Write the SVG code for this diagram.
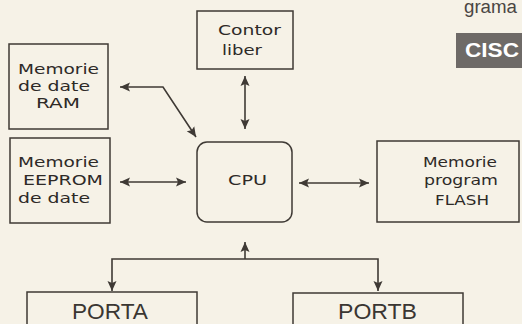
<svg xmlns="http://www.w3.org/2000/svg" width="522" height="324" viewBox="0 0 522 324">
<style>
.box{fill:none;stroke:#3f3a35;stroke-width:1.5}
.t{font-family:"DejaVu Sans",sans-serif;font-size:14.5px;fill:#2e2a27}
.big{font-family:"Liberation Sans",Arial,sans-serif;font-size:22px;fill:#3a3632}
.c{fill:none;stroke:#3f3a35;stroke-width:1.6}
</style>
<defs>
<marker id="ah" viewBox="0 0 10 10" refX="10" refY="5" markerWidth="10" markerHeight="10" markerUnits="userSpaceOnUse" orient="auto-start-reverse">
<path d="M0,0.5 L10,5 L0,9.5 L2,5 Z" fill="#3f3a35"/>
</marker>
</defs>
<rect width="522" height="324" fill="#f6f2e7"/>
<g id="heading">
<text x="464" y="13" font-family="Liberation Sans,Arial,sans-serif" font-size="18" fill="#4a4643" textLength="53" lengthAdjust="spacingAndGlyphs">grama</text>
</g>
<g id="cisc">
<rect x="456" y="33" width="70" height="35" fill="#6e6a67"/>
<text x="465" y="57" font-family="Liberation Sans,Arial,sans-serif" font-size="20" font-weight="bold" fill="#ffffff" textLength="54" lengthAdjust="spacingAndGlyphs">CISC</text>
</g>
<g id="contor">
<rect class="box" x="197" y="11" width="96" height="58"/>
<text class="t" x="218" y="35" textLength="63" lengthAdjust="spacingAndGlyphs">Contor</text>
<text class="t" x="222" y="55" textLength="40" lengthAdjust="spacingAndGlyphs">liber</text>
</g>
<g id="ram">
<rect class="box" x="9" y="44" width="99" height="85"/>
<text class="t" x="18" y="74" textLength="81" lengthAdjust="spacingAndGlyphs">Memorie</text>
<text class="t" x="18" y="91" textLength="72" lengthAdjust="spacingAndGlyphs">de date</text>
<text class="t" x="36" y="108" textLength="44" lengthAdjust="spacingAndGlyphs">RAM</text>
</g>
<g id="eeprom">
<rect class="box" x="10" y="138" width="100" height="85"/>
<text class="t" x="18" y="167" textLength="81" lengthAdjust="spacingAndGlyphs">Memorie</text>
<text class="t" x="23" y="185" textLength="80" lengthAdjust="spacingAndGlyphs">EEPROM</text>
<text class="t" x="18" y="203" textLength="72" lengthAdjust="spacingAndGlyphs">de date</text>
</g>
<g id="cpu">
<rect class="box" x="197" y="142" width="95" height="80" rx="10" ry="10"/>
<text class="t" x="228" y="185" font-size="12" textLength="39" lengthAdjust="spacingAndGlyphs">CPU</text>
</g>
<g id="flash">
<rect class="box" x="377" y="141" width="142" height="81"/>
<text class="t" x="423" y="167" textLength="74" lengthAdjust="spacingAndGlyphs">Memorie</text>
<text class="t" x="424" y="185" textLength="74" lengthAdjust="spacingAndGlyphs">program</text>
<text class="t" x="435" y="205" textLength="54" lengthAdjust="spacingAndGlyphs">FLASH</text>
</g>
<g id="porta">
<rect class="box" x="27" y="292" width="170" height="40"/>
<text class="big" x="72" y="319" textLength="76" lengthAdjust="spacingAndGlyphs">PORTA</text>
</g>
<g id="portb">
<rect class="box" x="293" y="293" width="170" height="40"/>
<text class="big" x="338" y="319" textLength="79" lengthAdjust="spacingAndGlyphs">PORTB</text>
</g>
<g id="connectors">
<path class="c" d="M120,87 L163,87 L196,137" marker-start="url(#ah)" marker-end="url(#ah)"/>
<path class="c" d="M245,76 L245,129" marker-start="url(#ah)" marker-end="url(#ah)"/>
<path class="c" d="M120,182 L186,182" marker-start="url(#ah)" marker-end="url(#ah)"/>
<path class="c" d="M299,183 L369,183" marker-start="url(#ah)" marker-end="url(#ah)"/>
<path class="c" d="M245,259 L245,242" marker-end="url(#ah)"/>
<path class="c" d="M112,291 L112,259 L378,259 L378,291" marker-start="url(#ah)" marker-end="url(#ah)"/>
</g>
</svg>
